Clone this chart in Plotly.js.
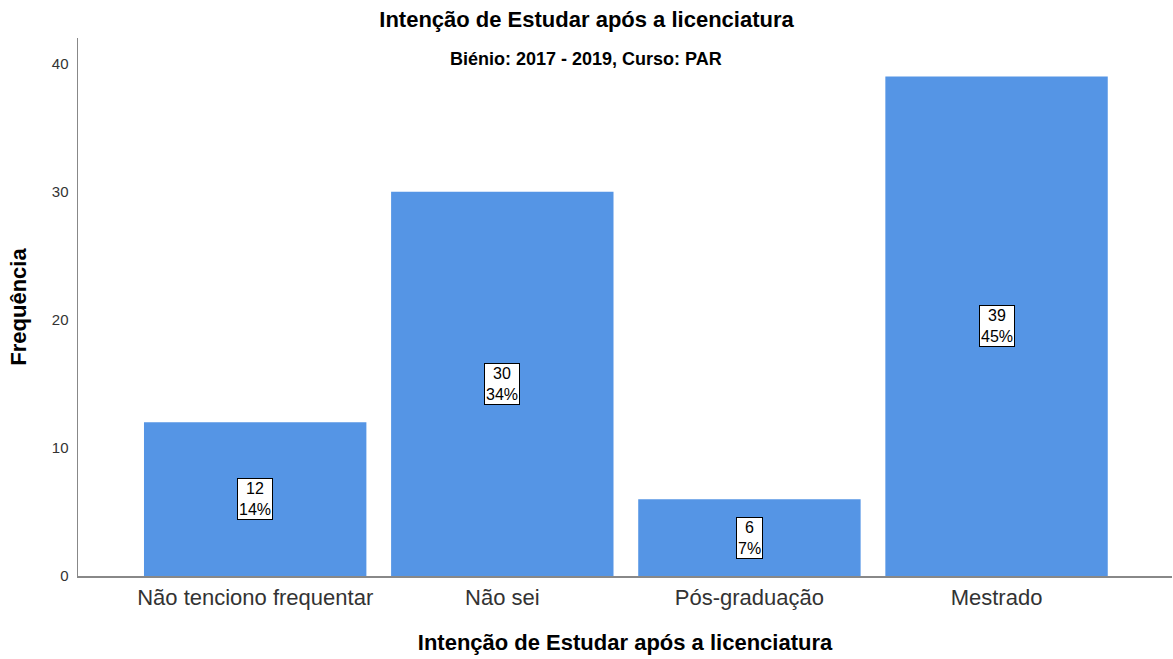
<!DOCTYPE html>
<html><head><meta charset="utf-8">
<script src="https://cdn.plot.ly/plotly-3.0.1.min.js"></script>
<style>html,body{margin:0;padding:0;background:#fff}#chart{width:1173px;height:659px}</style>
</head><body><div id="chart"></div>
<script>
const categories = ["Não tenciono frequentar", "Não sei", "Pós-graduação", "Mestrado"];
const counts = [12, 30, 6, 39];
const percentLabels = ["14%", "34%", "7%", "45%"];
const yTicks = [0, 10, 20, 30, 40];

const font = "Liberation Sans, Arial, sans-serif";
const annotations = categories.map((c, i) => ({
  x: c, y: counts[i] / 2, xref: 'x', yref: 'y',
  text: counts[i] + '<br>' + percentLabels[i],
  showarrow: false, bgcolor: '#ffffff', bordercolor: '#000000', borderwidth: 1, borderpad: 1,
  font: {family: font, size: 16, color: '#000'}
}));
annotations.push({
  text: '<b>Biénio: 2017 - 2019, Curso: PAR</b>', xref: 'paper', yref: 'paper',
  x: (586 - 78) / 1094, y: (576 - 59) / 538, xanchor: 'center', yanchor: 'middle',
  showarrow: false, font: {family: font, size: 18, color: '#000'}
});

Plotly.newPlot('chart', [{
  type: 'bar', x: categories, y: counts, width: 0.9,
  marker: {color: '#5595e5', line: {width: 0}}, hoverinfo: 'none'
}], {
  width: 1173, height: 659,
  margin: {l: 78, r: 1, t: 38, b: 83},
  paper_bgcolor: '#fff', plot_bgcolor: '#fff',
  showlegend: false,
  title: {text: '<b>Intenção de Estudar após a licenciatura</b>', x: 0.5, xref: 'container',
    y: 1 - 19 / 659, yref: 'container', yanchor: 'middle',
    font: {family: font, size: 22, color: '#000'}},
  xaxis: {
    range: [-0.717, 3.71], showgrid: false, zeroline: false,
    showline: true, linecolor: '#888', linewidth: 1.5,
    ticks: 'outside', ticklen: 1, tickcolor: 'rgba(0,0,0,0)',
    tickfont: {family: font, size: 22, color: '#333'},
    title: {text: '<b>Intenção de Estudar após a licenciatura</b>', standoff: 25,
      font: {family: font, size: 22, color: '#000'}}
  },
  yaxis: {
    range: [0, 42], tickvals: yTicks, showgrid: false, zeroline: false,
    showline: true, linecolor: '#888', linewidth: 1.5,
    ticks: 'outside', ticklen: 5, tickcolor: 'rgba(0,0,0,0)',
    tickfont: {family: font, size: 15, color: '#333'},
    title: {text: '<b>Frequência</b>', standoff: 19,
      font: {family: font, size: 22, color: '#000'}}
  },
  annotations: annotations
}, {displayModeBar: false, staticPlot: true});
</script></body></html>
